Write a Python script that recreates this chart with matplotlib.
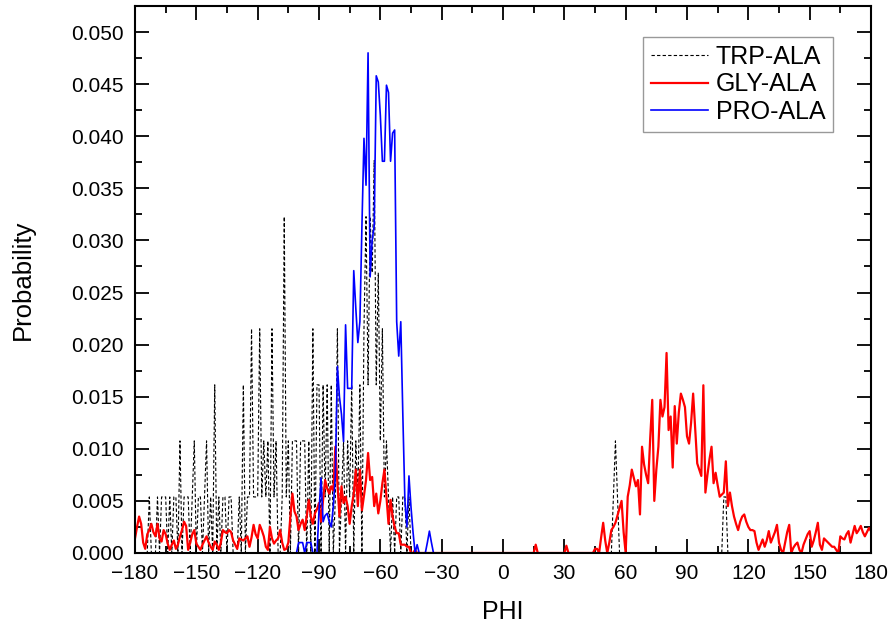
import numpy as np
import matplotlib
matplotlib.use("Agg")
import matplotlib.pyplot as plt
from matplotlib.ticker import MultipleLocator, FormatStrFormatter

plt.rcParams['font.family'] = ['Liberation Sans', 'DejaVu Sans']

# ---------------- data ----------------
phi = np.arange(-180, 181)          # 1-degree bins

series_names = ["TRP-ALA", "GLY-ALA", "PRO-ALA"]

# TRP-ALA: counts per bin (probability = count * trp_unit)
trp_unit = 0.00538
trp_left_start = -180
trp_left_counts = [
    0, 0, 0, 0, 0, 0, 0, 1, 0, 0, 0, 1, 0, 1, 1, 1, 0, 1, 0, 1,   # -180..-161
    1, 0, 2, 0, 1, 1, 1, 0, 1, 2, 0, 1, 1, 0, 1, 2, 0, 1, 0, 3,   # -160..-141
    0, 1, 0, 1, 1, 0, 1, 1, 0, 0, 0, 1, 0, 3, 0, 1, 1, 4, 1, 1,   # -140..-121
    1, 4, 1, 2, 1, 2, 0, 4, 1, 2, 0, 0, 1, 6, 1, 2, 0, 2, 2, 2,   # -120..-101
    0, 2, 2, 2, 0, 2, 0, 4, 0, 3, 3, 0, 3, 1, 3, 0, 3, 0, 1, 4,   # -100..-81
    0, 1, 2, 0, 2, 1, 3, 0, 2, 1, 3, 0, 4, 6, 3, 6, 5, 7, 3, 5,   # -80..-61
    2, 4, 1, 2, 1, 0, 1, 0, 1, 1, 0, 1, 1, 0, 1, 0, 0,            # -60..-44
]
trp_right_a_start = 54
trp_right_a_counts = [1, 2, 1, 0]
trp_right_b_start = 108
trp_right_b_counts = [1, 1, 0]

# GLY-ALA probabilities
gly_left_start = -180
gly_left = [
    0.0014, 0.0025, 0.0035, 0.0028, 0.0010, 0.0004, 0.0018, 0.0022, 0.0028, 0.0020,  # -180..-171
    0.0016, 0.0028, 0.0014, 0.0011, 0.0022, 0.0018, 0.0009, 0.0003, 0.0008, 0.0012,  # -170..-161
    0.0004, 0.0008, 0.0016, 0.0022, 0.0030, 0.0026, 0.0003, 0.0010, 0.0018, 0.0022,  # -160..-151
    0.0009, 0.0006, 0.0003, 0.0008, 0.0012, 0.0016, 0.0010, 0.0006, 0.0003, 0.0011,  # -150..-141
    0.0008, 0.0003, 0.0010, 0.0022, 0.0020, 0.0019, 0.0022, 0.0020, 0.0012, 0.0008,  # -140..-131
    0.0004, 0.0014, 0.0013, 0.0012, 0.0014, 0.0016, 0.0006, 0.0015, 0.0027, 0.0018,  # -130..-121
    0.0014, 0.0027, 0.0022, 0.0016, 0.0006, 0.0003, 0.0025, 0.0014, 0.0009, 0.0012,  # -120..-111
    0.0014, 0.0022, 0.0010, 0.0003, 0.0004, 0.0010, 0.0035, 0.0057, 0.0040, 0.0035,  # -110..-101
    0.0022, 0.0028, 0.0032, 0.0022, 0.0035, 0.0051, 0.0035, 0.0028, 0.0038, 0.0042,  # -100..-91
    0.0048, 0.0030, 0.0051, 0.0070, 0.0062, 0.0057, 0.0064, 0.0060, 0.0102, 0.0067,  # -90..-81
    0.0035, 0.0064, 0.0048, 0.0054, 0.0045, 0.0028, 0.0045, 0.0057, 0.0080, 0.0045,  # -80..-71
    0.0080, 0.0041, 0.0055, 0.0070, 0.0096, 0.0070, 0.0073, 0.0045, 0.0057, 0.0038,  # -70..-61
    0.0050, 0.0067, 0.0080, 0.0054, 0.0028, 0.0051, 0.0035, 0.0025, 0.0019, 0.0019,  # -60..-51
    0.0008, 0.0008, 0.0008, 0.0006, 0.0006, 0.0000, 0.0000, 0.0003, 0.0000,          # -50..-42
]
gly_blips = {16: 0.0008, 31: 0.0007}
gly_right_start = 45
gly_right = [
    0.0004, 0.0004, 0.0000, 0.0015, 0.0029, 0.0012, 0.0000, 0.0010, 0.0022, 0.0025,  # 45..54
    0.0029, 0.0036, 0.0043, 0.0050, 0.0020, 0.0000, 0.0054, 0.0065, 0.0080, 0.0072,  # 55..64
    0.0064, 0.0070, 0.0037, 0.0102, 0.0085, 0.0075, 0.0067, 0.0110, 0.0147, 0.0050,  # 65..74
    0.0080, 0.0102, 0.0147, 0.0131, 0.0140, 0.0192, 0.0118, 0.0131, 0.0082, 0.0141,  # 75..84
    0.0105, 0.0135, 0.0153, 0.0147, 0.0140, 0.0112, 0.0105, 0.0125, 0.0153, 0.0120,  # 85..94
    0.0086, 0.0080, 0.0074, 0.0161, 0.0058, 0.0075, 0.0090, 0.0102, 0.0067, 0.0077,  # 95..104
    0.0065, 0.0054, 0.0056, 0.0058, 0.0088, 0.0045, 0.0058, 0.0045, 0.0035, 0.0028,  # 105..114
    0.0022, 0.0030, 0.0035, 0.0037, 0.0030, 0.0025, 0.0022, 0.0022, 0.0021, 0.0010,  # 115..124
    0.0003, 0.0008, 0.0013, 0.0006, 0.0012, 0.0021, 0.0010, 0.0015, 0.0020, 0.0027,  # 125..134
    0.0010, 0.0003, 0.0000, 0.0010, 0.0020, 0.0027, 0.0000, 0.0005, 0.0008, 0.0010,  # 135..144
    0.0003, 0.0000, 0.0008, 0.0013, 0.0018, 0.0021, 0.0006, 0.0012, 0.0020, 0.0029,  # 145..154
    0.0008, 0.0003, 0.0014, 0.0012, 0.0010, 0.0008, 0.0006, 0.0006, 0.0003, 0.0000,  # 155..164
    0.0016, 0.0014, 0.0013, 0.0018, 0.0021, 0.0010, 0.0018, 0.0026, 0.0019, 0.0022,  # 165..174
    0.0026, 0.0020, 0.0016, 0.0020, 0.0024, 0.0021,                                  # 175..180
]

# PRO-ALA probabilities
pro_start = -100
pro_vals = [
    0.0010, 0.0010, 0.0010, 0.0000, 0.0010, 0.0010, 0.0010, 0.0000, 0.0000, 0.0000,  # -100..-91
    0.0040, 0.0072, 0.0030, 0.0036, 0.0038, 0.0030, 0.0025, 0.0045, 0.0074, 0.0179,  # -90..-81
    0.0150, 0.0133, 0.0107, 0.0219, 0.0158, 0.0158, 0.0158, 0.0271, 0.0235, 0.0202,  # -80..-71
    0.0222, 0.0314, 0.0398, 0.0353, 0.0480, 0.0265, 0.0300, 0.0314, 0.0458, 0.0452,  # -70..-61
    0.0420, 0.0376, 0.0376, 0.0449, 0.0442, 0.0376, 0.0403, 0.0406, 0.0222, 0.0189,  # -60..-51
    0.0222, 0.0133, 0.0051, 0.0025, 0.0074, 0.0044, 0.0020, 0.0000, 0.0008, 0.0000,  # -50..-41
    0.0000, 0.0000, 0.0000, 0.0010, 0.0021, 0.0010, 0.0000,                          # -40..-34
]


def build(segments, blips=None):
    y = np.zeros(phi.size)
    for start, vals in segments:
        i0 = start + 180
        y[i0:i0 + len(vals)] = vals
    if blips:
        for k, v in blips.items():
            y[k + 180] = v
    return y


trp = build([(trp_left_start, trp_left_counts),
             (trp_right_a_start, trp_right_a_counts),
             (trp_right_b_start, trp_right_b_counts)]) * trp_unit
gly = build([(gly_left_start, gly_left), (gly_right_start, gly_right)], gly_blips)
pro = build([(pro_start, pro_vals)])

# ---------------- figure ----------------
fig = plt.figure(figsize=(8.93, 6.31), dpi=100)
ax = fig.add_axes([135 / 893, 1 - 553 / 631, 736 / 893, 547 / 631])

ax.plot(phi, trp, color='black', lw=0.8, ls=(0, (3, 2)), label=series_names[0])
ax.plot(phi, gly, color='#ff0000', lw=1.6, label=series_names[1])
ax.plot(phi, pro, color='#0000ff', lw=1.2, label=series_names[2])

ax.set_xlim(-180, 180)
ax.set_ylim(0, 0.0525)
ax.xaxis.set_major_locator(MultipleLocator(30))
ax.xaxis.set_minor_locator(MultipleLocator(15))
ax.yaxis.set_major_locator(MultipleLocator(0.005))
ax.yaxis.set_minor_locator(MultipleLocator(0.0025))
ax.yaxis.set_major_formatter(FormatStrFormatter('%.3f'))

ax.tick_params(which='both', direction='in', top=True, right=True,
               width=1.3, labelsize=15, colors='black')
ax.tick_params(which='major', length=10, pad=8)
ax.tick_params(which='minor', length=5)
for s in ax.spines.values():
    s.set_linewidth(1.5)

ax.set_xlabel('PHI', fontsize=18, labelpad=12)
ax.set_ylabel('Probability', fontsize=18.5, labelpad=26)

leg = ax.legend(loc='upper right', bbox_to_anchor=(0.948, 0.943),
                borderaxespad=0, fontsize=18, frameon=True, fancybox=False,
                handlelength=2.3, handletextpad=0.3, labelspacing=0.15,
                borderpad=0.3)
leg.get_frame().set_edgecolor('#808080')
leg.get_frame().set_linewidth(1.0)

fig.savefig('out.png', dpi=100)
